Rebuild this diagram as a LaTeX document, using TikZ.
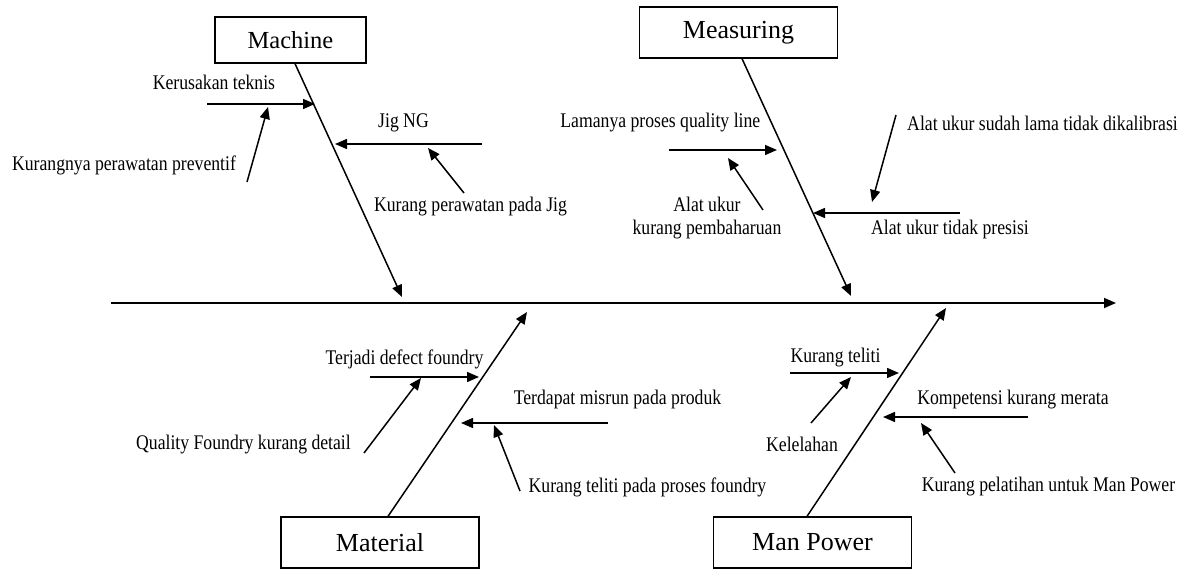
\documentclass[tikz,border=0pt]{standalone}
\usepackage{fontspec}
\setmainfont{Liberation Serif}
\newfontfamily\labelfont[FakeStretch=0.85]{Liberation Serif}
\usetikzlibrary{arrows.meta}

\begin{document}
\begin{tikzpicture}[x=1pt, y=1pt, >={Triangle[length=12pt,width=10pt]}, line width=1.5pt,
		every node/.style={font=\labelfont\fontsize{20.8}{23}\selectfont, inner sep=0pt},
		kotak/.style={draw, line width=1.3pt, minimum width=198pt, minimum height=51pt, font=\fontsize{26}{30}\selectfont}]
	\useasboundingbox (0,0) rectangle (1191,570);
	
	% 1. 主干（鱼脊）
	\coordinate (ekor) at (111,267);
	\coordinate (kepala) at (1116,267);
	\draw[->, line width=1.8pt] (ekor) -- (kepala);
	
	% 2. 四个类别框
	\node[kotak, minimum width=151pt, minimum height=46pt, font=\fontsize{24.5}{28}\selectfont] (machine) at (290.5,530) {Machine};
	\node[kotak] (measuring) at (738.5,537.5) {Measuring};
	\node[kotak] (material) at (380,27.5) {Material};
	\node[kotak] (manpower) at (812.5,27.5) {Man Power};
	
	% 3. 大骨（指向主干）
	\coordinate (ujungmachine) at (402,273);
	\coordinate (ujungmeasuring) at (851,274);
	\coordinate (ujungmaterial) at (527,258);
	\coordinate (ujungmanpower) at (946,262);
	\draw[->] ([xshift=4.5pt]machine.south) -- (ujungmachine);
	\draw[->] ([xshift=3.5pt]measuring.south) -- (ujungmeasuring);
	\draw[->] ([xshift=8pt]material.north) -- (ujungmaterial);
	\draw[->] ([xshift=-5.5pt]manpower.north) -- (ujungmanpower);
	
	% 4. Machine 小骨
	\node (kerusakan) at (214,488) {Kerusakan teknis};
	\node (preventif) at (124,405) {Kurangnya perawatan preventif};
	\node (jigng) at (403.5,447) {Jig NG};
	\node (rawatjig) at (470.5,363) {Kurang perawatan pada Jig};
	\coordinate (a1) at (207,466); \coordinate (b1) at (315,466);
	\coordinate (a2) at (247,388); \coordinate (b2) at (268,463);
	\coordinate (a3) at (482,426); \coordinate (b3) at (335,426);
	\coordinate (a4) at (464,377); \coordinate (b4) at (428,422);
	\draw[->] (a1) -- (b1);
	\draw[->] (a2) -- (b2);
	\draw[->] (a3) -- (b3);
	\draw[->] (a4) -- (b4);
	
	% 5. Measuring 小骨
	\node[anchor=east] (lamanya) at (761,447) {Lamanya proses quality line};
	\node[align=center] (pembaharuan) at (707,351.5) {Alat ukur\\kurang pembaharuan};
	\node (kalibrasi) at (1042.5,447) {Alat ukur sudah lama tidak dikalibrasi};
	\node (presisi) at (950,340) {Alat ukur tidak presisi};
	\coordinate (a5) at (669,420); \coordinate (b5) at (777,420);
	\coordinate (a6) at (763,360); \coordinate (b6) at (728,412);
	\coordinate (a7) at (896,455); \coordinate (b7) at (872,368);
	\coordinate (a8) at (960,357); \coordinate (b8) at (813,357);
	\draw[->] (a5) -- (b5);
	\draw[->] (a6) -- (b6);
	\draw[->] (a7) -- (b7);
	\draw[->] (a8) -- (b8);
	
	% 6. Material 小骨
	\node (defect) at (404.5,211) {Terjadi defect foundry};
	\node (qfoundry) at (243.5,125) {Quality Foundry kurang detail};
	\node (misrun) at (617.5,170) {Terdapat misrun pada produk};
	\node (telitifoundry) at (647.5,83) {Kurang teliti pada proses foundry};
	\coordinate (a9) at (370,193); \coordinate (b9) at (479,193);
	\coordinate (a10) at (364,117); \coordinate (b10) at (421,192);
	\coordinate (a11) at (608,147); \coordinate (b11) at (461,147);
	\coordinate (a12) at (520,79); \coordinate (b12) at (494,145);
	\draw[->] (a9) -- (b9);
	\draw[->] (a10) -- (b10);
	\draw[->] (a11) -- (b11);
	\draw[->] (a12) -- (b12);
	
	% 7. Man Power 小骨
	\node (teliti) at (835.5,212) {Kurang teliti};
	\node (kelelahan) at (802,126) {Kelelahan};
	\node (kompetensi) at (1013,170) {Kompetensi kurang merata};
	\node (pelatihan) at (1048.5,83) {Kurang pelatihan untuk Man Power};
	\coordinate (a13) at (790,197); \coordinate (b13) at (899,197);
	\coordinate (a14) at (811,147); \coordinate (b14) at (851,193);
	\coordinate (a15) at (1028,153); \coordinate (b15) at (883,153);
	\coordinate (a16) at (955,97); \coordinate (b16) at (921,147);
	\draw[->] (a13) -- (b13);
	\draw[->] (a14) -- (b14);
	\draw[->] (a15) -- (b15);
	\draw[->] (a16) -- (b16);
\end{tikzpicture}
\end{document}
